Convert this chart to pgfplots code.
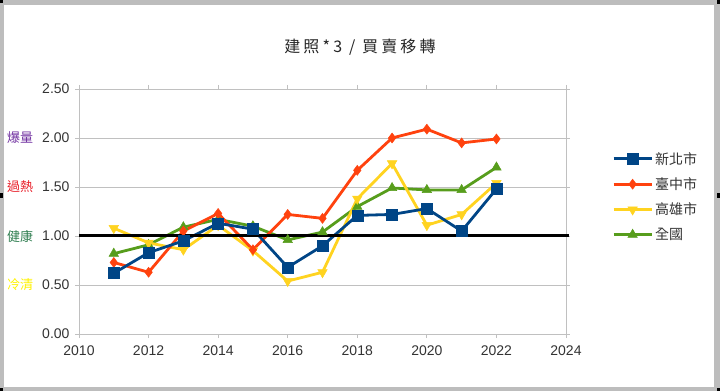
\documentclass[border=0pt]{standalone}
\usepackage{fontspec}
\setmainfont{Liberation Sans}
\newfontfamily\cjk{Noto Sans CJK TC}
\newfontfamily\cjktitle[LetterSpace=20]{Noto Sans CJK TC}
\usepackage{pgfplots}
\pgfplotsset{compat=1.18}
\definecolor{cblue}{HTML}{004586}
\definecolor{cred}{HTML}{FF420E}
\definecolor{cyellow}{HTML}{FFD320}
\definecolor{cgreen}{HTML}{579D1C}
\definecolor{gridgray}{HTML}{C0C0C0}
\definecolor{txt}{HTML}{333333}
\definecolor{lpurple}{HTML}{7030A0}
\definecolor{lred}{HTML}{E8202A}
\definecolor{lgreen}{HTML}{2E7D4F}
\definecolor{lyellow}{HTML}{FFF200}
\definecolor{framegray}{HTML}{BDBDBD}
\begin{document}
\begin{tikzpicture}
\begin{axis}[
  width=487bp, height=245bp, scale only axis,
  xmin=2010, xmax=2024, ymin=0, ymax=2.5,
  xtick={2010,2012,2014,2016,2018,2020,2022,2024},
  ytick={0,0.5,1,1.5,2,2.5},
  ymajorgrids,
  major grid style={gridgray, line width=0.8bp},
  axis line style={gridgray, line width=0.8bp},
  tick style={gridgray, line width=0.8bp},
  tick align=outside, major tick length=4bp,
  /pgf/number format/assume math mode=true,
  x tick label style={/pgf/number format/1000 sep={}, yshift=-4bp},
  y tick label style={/pgf/number format/fixed, /pgf/number format/fixed zerofill, /pgf/number format/precision=2, xshift=-2bp},
  tick label style={font=\fontsize{14bp}{16bp}\selectfont, text=txt},
  clip=false,
  reverse legend,
  legend cell align=left,
  legend style={at={(1.0945,0.751)}, anchor=north west, draw=none, fill=none,
    inner sep=0pt, row sep=8bp,
    font=\cjk\fontsize{14bp}{16bp}\selectfont, text=txt},
  legend image code/.code={\draw[mark repeat=2,mark phase=2] plot coordinates {(0bp,0bp) (19bp,0bp) (38bp,0bp)};},
]
% 全國
\addplot[cgreen, line width=2.8bp, mark=triangle*, mark size=5.5bp, mark options={line width=0.5bp}] coordinates {
(2011,0.82) (2012,0.91) (2013,1.09) (2014,1.17) (2015,1.10) (2016,0.96) (2017,1.04) (2018,1.30) (2019,1.49) (2020,1.47) (2021,1.47) (2022,1.70)};
\addlegendentry{全國}
% 高雄市
\addplot[cyellow, line width=2.8bp, mark=triangle*, mark size=5.5bp, mark options={rotate=180, line width=0.5bp}] coordinates {
(2011,1.08) (2012,0.93) (2013,0.86) (2014,1.11) (2015,0.85) (2016,0.54) (2017,0.63) (2018,1.38) (2019,1.74) (2020,1.11) (2021,1.22) (2022,1.54)};
\addlegendentry{高雄市}
% 臺中市
\addplot[cred, line width=2.8bp, mark=diamond*, mark size=5bp, mark options={line width=0.5bp}] coordinates {
(2011,0.73) (2012,0.63) (2013,1.05) (2014,1.23) (2015,0.86) (2016,1.22) (2017,1.18) (2018,1.67) (2019,2.00) (2020,2.09) (2021,1.95) (2022,1.99)};
\addlegendentry{臺中市}
% 新北市
\addplot[cblue, line width=2.8bp, mark=square*, mark size=5.5bp, mark options={line width=0.5bp}] coordinates {
(2011,0.62) (2012,0.83) (2013,0.95) (2014,1.13) (2015,1.07) (2016,0.68) (2017,0.90) (2018,1.21) (2019,1.22) (2020,1.28) (2021,1.05) (2022,1.48)};
\addlegendentry{新北市}
% reference line
\addplot[black, line width=3bp, forget plot] coordinates {(2010,1) (2024.1,1)};
% left labels
\node[anchor=west, inner sep=0pt, text=lpurple, font=\cjk\fontsize{13bp}{15bp}\selectfont] at ([xshift=-72bp]rel axis cs:0,0.8) {爆量};
\node[anchor=west, inner sep=0pt, text=lred, font=\cjk\fontsize{13bp}{15bp}\selectfont] at ([xshift=-72bp]rel axis cs:0,0.6) {過熱};
\node[anchor=west, inner sep=0pt, text=lgreen, font=\cjk\fontsize{13bp}{15bp}\selectfont] at ([xshift=-72bp]rel axis cs:0,0.4) {健康};
\node[anchor=west, inner sep=0pt, text=lyellow, font=\cjk\fontsize{13bp}{15bp}\selectfont] at ([xshift=-72bp]rel axis cs:0,0.2) {冷清};
% title
\node[text=black!85, font=\cjktitle\fontsize{16bp}{18bp}\selectfont] at (rel axis cs:0.577,1.1714) {建照*3 / 買賣移轉};
% frame
\fill[framegray, even odd rule]
  ([shift={(-79bp,-57bp)}]rel axis cs:0,0) rectangle ([shift={(641bp,334bp)}]rel axis cs:0,0)
  ([shift={(-75bp,-53bp)}]rel axis cs:0,0) rectangle ([shift={(635bp,329bp)}]rel axis cs:0,0);
\fill[black] ([shift={(-79bp,331bp)}]rel axis cs:0,0) rectangle ([shift={(-76bp,334bp)}]rel axis cs:0,0);
\fill[black] ([shift={(638bp,330bp)}]rel axis cs:0,0) rectangle ([shift={(641bp,334bp)}]rel axis cs:0,0);
\fill[black] ([shift={(-79bp,136bp)}]rel axis cs:0,0) rectangle ([shift={(-76bp,141bp)}]rel axis cs:0,0);
\fill[black] ([shift={(638bp,136bp)}]rel axis cs:0,0) rectangle ([shift={(641bp,141bp)}]rel axis cs:0,0);
\fill[black] ([shift={(-79bp,-57bp)}]rel axis cs:0,0) rectangle ([shift={(-76bp,-54bp)}]rel axis cs:0,0);
\fill[black] ([shift={(638bp,-57bp)}]rel axis cs:0,0) rectangle ([shift={(641bp,-54bp)}]rel axis cs:0,0);
\end{axis}
\end{tikzpicture}
\end{document}
